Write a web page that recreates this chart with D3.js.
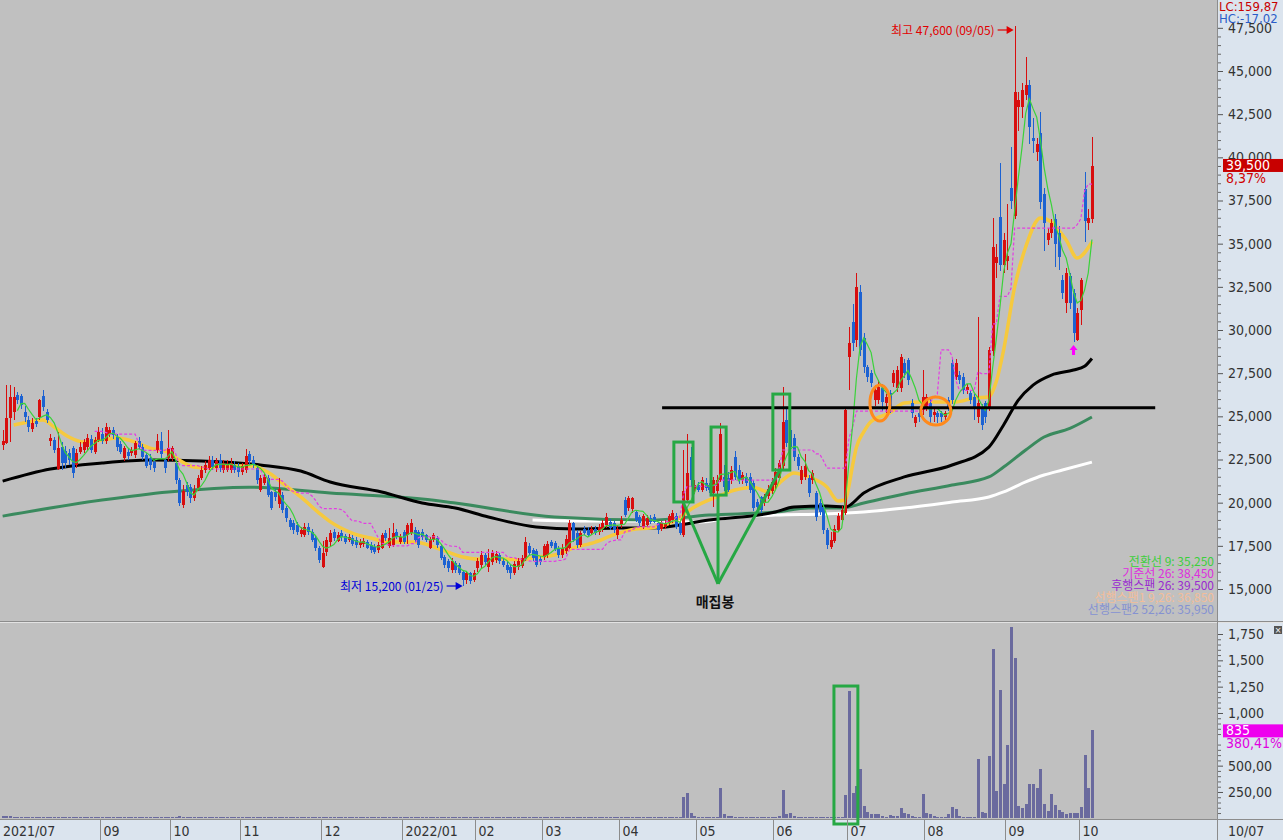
<!DOCTYPE html>
<html><head><meta charset="utf-8">
<script src="https://cdn.jsdelivr.net/npm/d3@7"></script>
<style>body{margin:0;background:#c0c0c0;}svg{display:block;}</style>
</head><body>
<svg id="c" width="1283" height="840"></svg>
<script>
// ---------------- DATA ----------------
// daily candles [open, high, low, close], 2021-07-22 .. 2022-10-07
const ohlc = [
[23350,24200,23050,23600],[23450,26800,23400,24900],[24900,26800,23500,26100],[25250,26700,24800,26100],[26250,26400,25700,25950],
[26200,26300,25400,25650],[25250,25600,24700,24950],[24800,25000,24100,24400],[24250,24900,24100,24600],[24750,24900,24400,24550],
[24950,26000,24800,25950],[26200,26500,25300,25550],[25250,25400,24600,24800],[23550,24000,23300,23750],[23650,23800,22900,23050],
[21950,24100,21900,23150],[23200,23500,21900,22300],[23000,23300,22000,22300],[22900,23100,22200,22450],[23150,23300,21450,21700],
[22200,23100,22000,22850],[22950,23500,22800,23200],[23050,23700,22900,23500],[23200,24000,23000,23750],[23700,23900,22900,23050],
[22950,23800,22800,23650],[23650,24400,23500,24100],[24000,24300,23400,23550],[23550,24600,23400,24400],[24000,24400,23800,24200],
[24200,24400,23700,23900],[23800,24000,23000,23200],[23400,23600,22800,22950],[22600,23300,22400,23150],[22950,23100,22500,22700],
[22900,23200,22700,23050],[22750,23600,22600,23450],[23600,23800,23100,23250],[23250,23400,22500,22650],[22750,22900,22000,22150],
[22600,22800,21900,22200],[22350,22500,21800,22000],[23050,24000,22900,23600],[23600,24100,22600,22800],[22450,22600,21700,22000],
[22600,24200,22400,23150],[22600,23300,22400,23150],[22300,22500,21100,21300],[21300,21400,19800,20000],[19850,21000,19700,20700],
[21000,21200,20400,20600],[20900,21100,20000,20250],[20250,21000,20100,20700],[20850,21600,20700,21450],[21450,22100,21300,21900],
[21900,22400,21700,22200],[22000,22700,21900,22450],[22450,22700,21900,22050],[22000,22600,21800,22400],[22450,22800,21800,22000],
[21900,22500,21700,22300],[21900,22500,21800,22200],[21900,22600,21700,22300],[22200,22400,21700,21900],[22100,22300,21500,21750],
[21800,22300,21600,22100],[21900,23100,21700,22700],[22800,23000,22200,22400],[22500,22700,22000,22200],[22000,22100,21100,21300],
[20750,21600,20600,21400],[21150,21700,21000,21500],[21450,21600,20300,20450],[20600,20700,19600,19700],[20600,20800,20100,20350],
[19900,21400,19700,20800],[20450,20600,19400,19600],[19700,19800,18900,19100],[19000,19100,18400,18600],[18850,19000,18200,18400],
[18700,18900,18100,18300],[18200,18600,18000,18400],[18150,18800,18000,18600],[18600,18800,18100,18300],[18300,18500,17700,17850],
[17950,18100,17200,17350],[17400,17500,16500,16700],[16300,17800,16200,17100],[17150,18000,16900,17850],[17700,18400,17500,18250],
[18300,18500,17800,17950],[17800,18300,17700,18100],[18250,18400,17800,18000],[18050,18200,17600,17700],[17850,18200,17700,18000],
[17950,18100,17500,17600],[17850,18000,17400,17550],[17550,17900,17400,17700],[17600,17950,17450,17800],[17700,17850,17300,17400],
[17550,17700,17100,17250],[17450,17600,17000,17150],[17250,17700,17100,17550],[17400,18250,17300,18100],[18250,18400,17800,17950],
[17500,18550,17400,17950],[17550,18800,17450,18250],[18300,18500,17900,18000],[17750,18200,17600,18000],[18300,18400,17600,17750],
[18100,18800,17600,18700],[18250,19050,18100,18850],[18400,18600,17700,17850],[18300,18400,17400,17550],[18300,18450,17850,18000],
[18100,18200,17700,17850],[17400,18000,17300,17900],[17850,18250,17700,18100],[17950,18050,17400,17550],[17500,17600,16700,16800],
[16850,16950,16200,16400],[16650,16750,16000,16200],[16100,16800,15900,16650],[16500,16600,15950,16100],[16400,16500,15800,15950],
[16000,16100,15200,15500],[15500,16000,15300,15900],[15900,16000,15300,15450],[15550,16100,15400,15900],[16200,16800,16000,16650],
[16400,17200,16200,16950],[16950,17100,16400,16550],[16300,17300,16000,16800],[16550,17250,16400,17100],[16700,17200,16500,17050],
[16950,17100,16450,16600],[16650,16800,16250,16400],[16400,16550,15950,16100],[16300,16400,15600,15950],[15950,16600,15800,16450],
[16300,16800,16100,16650],[16350,16950,16200,16800],[16750,18000,16600,17700],[17500,17650,16950,17100],[17250,17400,16600,16800],
[17200,17300,16300,16400],[16750,16900,16400,16550],[16850,17600,16700,17500],[16950,17800,16800,17600],[17700,17850,17400,17500],
[17650,17800,17200,17300],[17400,17500,16800,16950],[16950,17600,16800,17400],[17200,18100,17050,17900],[17400,19000,17300,18800],
[18800,18900,17700,17850],[18250,18400,17400,17550],[17550,18350,17450,18250],[18500,18650,18100,18250],[18400,18600,18000,18150],
[18250,18650,18100,18500],[18500,18650,18100,18250],[18300,18750,18150,18600],[18450,19000,18300,18850],[18700,19400,18550,19150],
[18900,19050,18400,18550],[18800,18950,18250,18400],[18100,18700,17900,18500],[18700,19200,18550,19000],[20150,20300,19150,19300],
[19700,20400,19500,20250],[19650,20300,19400,20250],[19450,19600,18900,19000],[19150,19300,18650,18800],[18600,19350,18500,19200],
[18700,19300,18600,19100],[19100,19300,18750,18900],[19150,19350,18800,18900],[18800,18900,18200,18400],[18500,18950,18350,18800],
[18600,19000,18500,18850],[18850,19350,18700,19200],[19000,19600,18850,19400],[19200,19400,18450,18600],[18800,18900,18100,18250],
[18100,23050,18000,20650],[20150,24000,20050,21700],[22650,23200,20900,21300],[20750,21300,20500,21000],[21000,21200,20600,20750],
[20750,21500,20600,21300],[21150,21400,20700,20850],[21000,21150,20550,20750],[20550,21500,19750,21300],[20650,21600,20500,21300],
[21300,24600,21200,24000],[21500,22200,20700,20900],[21400,21800,20600,20750],[21300,22100,21100,21900],[22650,23000,21300,21500],
[21900,22200,21100,21300],[21300,21800,21100,21600],[21500,21700,20950,21150],[21500,21700,20550,20750],[21150,21300,19500,19700],
[20050,20200,19500,19750],[20300,20400,19400,19600],[20000,20500,19800,20300],[20400,21000,20200,20800],[20700,21400,20500,21200],
[21000,22000,20800,21800],[21450,22500,21300,22300],[22100,26700,21900,24700],[24800,25400,23200,23450],[24200,24500,22900,23200],
[23750,24000,22400,22650],[22650,22800,21900,22100],[21300,22100,21100,21900],[21500,22800,21300,22100],[21450,21600,20300,20550],
[21300,21900,21100,21700],[20550,20700,18950,19150],[20000,20200,19300,19450],[19750,19900,18200,18400],[18400,18550,17300,17550],
[17450,18300,17300,17850],[17800,18700,17650,18450],[18400,19400,18300,19200],[19000,19800,18900,19600],[19400,25400,19300,25350],
[28450,30200,26500,29250],[30450,31500,28800,29250],[29400,33300,29000,32500],[32200,32600,28500,28850],[29550,29800,27500,27850],
[27850,28000,27000,27300],[27500,27700,26700,26950],[25950,26800,25600,26500],[25950,27100,25700,26700],[26650,26900,25300,25850],
[25750,26300,25200,26100],[26350,26500,25200,25550],[26950,27700,26700,27500],[26650,27900,26400,27700],[26650,28600,26400,28450],
[28100,28300,27200,27500],[28250,28400,26800,27100],[25800,26000,24900,25200],[24600,25100,24400,24950],[25200,25400,24700,24950],
[25350,27700,25100,26100],[25550,26300,25300,26100],[25800,26000,24600,24950],[25050,25400,24700,25250],[25200,25300,24600,24950],
[25200,25300,24700,24950],[24950,25300,24700,25200],[25950,26100,25300,25550],[28100,28300,25700,25950],[27300,28300,27100,28100],
[27400,27600,26900,27100],[27300,27500,26300,26550],[26550,26900,26300,26700],[26350,26500,25700,25950],[26100,26300,24800,25550],
[24950,30750,24600,25750],[25550,25700,24200,24500],[25750,25900,24600,24950],[25550,29000,25300,28850],[28800,36500,28500,34800],
[33900,35000,33000,34200],[36550,39700,33400,33750],[33750,35600,33300,35200],[34000,37300,33500,34300],[38200,40600,37000,37500],
[36600,47600,36400,43800],[42900,43800,41500,43300],[42900,44300,42300,43900],[43600,45800,43300,44200],[44200,44500,40800,41750],
[41100,42300,40250,40950],[40300,41100,39800,40800],[41400,42600,37000,37400],[37900,38200,34600,36200],[35200,35900,34900,35600],
[35600,36400,35300,36200],[36400,36700,33650,35000],[35600,36000,33500,34200],[32900,33200,31800,32150],[31550,33600,31000,33300],
[33100,33300,31200,31550],[32150,32400,29300,29800],[29400,31300,29350,31000],[31150,33000,30300,32900],[38150,39150,35100,36300],
[36200,37000,35800,36500],[36400,41200,36200,39500]
];

// volume (thousand shares)
const volumes = [
18,25,22,12,9,8,10,14,9,7, 8,11,7,6,9,13,8,7,6,10, 7,6,5,6,8,6,5,7,6,5, 6,5,7,5,4,6,5,8,6,5,
6,7,12,9,8,10,9,14,18,10, 8,7,6,9,8,7,6,5,6,7, 5,6,5,6,7,6,10,8,6,9, 7,6,8,10,7,9,8,9,7,6,
6,5,7,6,8,7,9,12,9,7, 6,5,6,7,5,6,5,6,5,6, 5,6,7,10,8,9,11,7,6,8, 9,10,8,9,7,6,6,5,7,9,
8,7,9,8,10,12,9,8,7,9, 8,7,8,7,6,6,5,6,7,6, 6,7,12,8,7,9,6,8,7,6, 6,7,8,9,14,10,8,7,6,6,
5,6,6,7,8,6,6,5,7,14, 10,9,8,7,6,8,7,6,6,7, 6,7,8,12,
10, 205,237,53,22, 14,12,10,12,11,13, 290,44,22,
18,16,17,15,14,16,13,12,15,14,12,13,14,22, 269,44,53,
18,16,14,12,13,11,12,14,13,11,10,12,14, 14,
220,1210,237,310,465,118,63,44,44,44, 22,16,33,20,25,95,53,44,22,16,
16,230,53,44,22,16,16,12,44,105, 85,22,10,8,10,10,560,63,53,592,
1605,259,1218,326,696,1820,1519,118,95,136, 323,323,288,468,136,70,230,127,79,57,
44,50,50,50,105,601,288,835
];

// moving-average style lines: [candle index, price]
const yellowLine = [[3,24500],[7,24670],[11,24790],[14,24380],[18,23800],[22,23510],[27,23630],[31,23740],[36,23510],[40,23160],[45,22930],[48,22470],[52,22060],[56,22010],[59,22120],[63,22120],[68,22120],[72,21770],[76,21140],[81,20330],[86,19400],[89,18900],[95,18240],[100,17950],[105,17720],[112,17720],[118,17370],[125,16850],[129,16735],[136,16735],[141,16680],[145,16850],[150,16970],[155,17370],[161,17720],[166,18130],[172,18470],[176,18530],[183,18990],[188,19750],[194,20330],[199,20730],[204,20900],[208,20620],[212,21310],[215,21720],[219,21490],[224,20900],[227,20100],[229,20150],[230,21000],[231,22200],[232,23200],[234,24100],[236,24700],[241,25190],[245,25770],[250,25830],[255,25830],[259,25830],[264,26060],[268,26120],[270,27000],[272,28840],[275,32490],[278,34810],[282,36490],[285,36250],[289,35210],[292,34170],[296,35100]];
const blackLine = [[0,21250],[13,21950],[27,22300],[40,22470],[54,22410],[70,22180],[81,21830],[89,21200],[103,20620],[114,19980],[123,19690],[132,19170],[145,18590],[156,18470],[168,18530],[176,18530],[192,18990],[210,19460],[215,19750],[224,19800],[229,19750],[234,20560],[245,21490],[258,22180],[268,23220],[272,24500],[276,25940],[280,26810],[285,27390],[291,27680],[294,27900],[296,28350]];
const greenLine = [[0,19220],[27,20150],[45,20620],[67,20900],[89,20560],[114,20210],[123,19980],[150,19170],[176,18990],[192,19280],[210,19460],[219,19690],[228,19690],[234,19980],[245,20500],[258,21020],[268,21490],[272,22060],[278,23050],[283,23800],[290,24300],[296,24960]];
const whiteLine = [[144,18990],[157,18940],[174,18940],[190,18880],[197,19110],[210,19280],[223,19340],[234,19460],[245,19690],[258,20040],[268,20330],[272,20620],[278,21200],[283,21600],[288,21890],[296,22350]];

// axis labels
const monthIdx = [0,27,46,65,87,109,129,147,168,189,210,230,251,273,293];
const monthLabels = ["2021/07","09","10","11","12","2022/01","02","03","04","05","06","07","08","09","10"];
const priceTicks = [15000,17500,20000,22500,25000,27500,30000,32500,35000,37500,40000,42500,45000,47500];
const volTicks = [250,500,1000,1250,1500,1750];
const volTickLabels = ["250,00","500,00","1,000","1,250","1,500","1,750"];
const legendLines = ["전환선 9: 35,250","기준선 26: 38,450","후행스팬 26: 39,500","선행스팬1 9,26: 36,850","선행스팬2 52,26: 35,950"];

// ---------------- DRAW ----------------
const UP="#d80e0e", DN="#1c62d2", AXBG="#dbe4ee", VOLC="#6a6a9e";
const NUMFONT="'Liberation Sans Narrow','DejaVu Sans Condensed','Arial Narrow',sans-serif";
const KRFONT="'Noto Sans CJK KR','Noto Sans',sans-serif";
const svg=d3.select("#c");
const xs=d3.scaleLinear().domain([0,330]).range([2.64,2.64+330*3.68]);
const ys=d3.scaleLinear().domain([15000,45000]).range([589,71]);
const yv=d3.scaleLinear().domain([0,1750]).range([818.3,634]);

const defs=svg.append("defs");
defs.append("clipPath").attr("id","cp").append("rect").attr("x",0).attr("y",0).attr("width",1217).attr("height",621);
defs.append("clipPath").attr("id","cv").append("rect").attr("x",0).attr("y",623).attr("width",1217).attr("height",196);

svg.append("rect").attr("width",1283).attr("height",840).attr("fill","#c0c0c0");

// MA lines
const pg=svg.append("g").attr("clip-path","url(#cp)");
const lg=d3.line().x(d=>xs(d[0])).y(d=>ys(d[1])).curve(d3.curveMonotoneX);
pg.append("path").attr("d",lg(whiteLine)).attr("fill","none").attr("stroke","#ffffff").attr("stroke-width",3);
pg.append("path").attr("d",lg(greenLine)).attr("fill","none").attr("stroke","#3a8a5e").attr("stroke-width",3);
pg.append("path").attr("d",lg(blackLine)).attr("fill","none").attr("stroke","#000").attr("stroke-width",3);
pg.append("path").attr("d",lg(yellowLine)).attr("fill","none").attr("stroke","#f6c93e").attr("stroke-width",3.5);

// candles
const cg=pg.append("g");
cg.selectAll("line.wick").data(ohlc).join("line").attr("class","wick")
  .attr("x1",(d,i)=>Math.round(xs(i))+0.5).attr("x2",(d,i)=>Math.round(xs(i))+0.5)
  .attr("y1",d=>ys(d[1])).attr("y2",d=>ys(d[2]))
  .attr("stroke",d=>d[3]>=d[0]?UP:DN).attr("stroke-width",1).attr("shape-rendering","crispEdges");
cg.selectAll("rect.body").data(ohlc).join("rect").attr("class","body")
  .attr("x",(d,i)=>Math.round(xs(i))-1).attr("width",3)
  .attr("y",d=>ys(Math.max(d[0],d[3])))
  .attr("height",d=>Math.max(1,Math.abs(ys(d[0])-ys(d[3]))))
  .attr("fill",d=>d[3]>=d[0]?UP:DN).attr("shape-rendering","crispEdges");

// kijun (26-bar mid-range) and 5-bar average of closes, computed from the candles
function midline(n){return ohlc.map((d,i)=>{if(i<n-1)return null;const w=ohlc.slice(i-n+1,i+1);return [i,(d3.max(w,e=>e[1])+d3.min(w,e=>e[2]))/2];});}
function sma(n){return ohlc.map((d,i)=>i<n-1?null:[i,d3.mean(ohlc.slice(i-n+1,i+1),e=>e[3])]);}
const l2=d3.line().defined(d=>d!==null).x(d=>xs(d[0])).y(d=>ys(d[1]));
pg.append("path").attr("d",l2(midline(26))).attr("fill","none").attr("stroke","#e23ee2").attr("stroke-width",1.2).attr("stroke-dasharray","3,2");
pg.append("path").attr("d",l2(sma(5))).attr("fill","none").attr("stroke","#3ad23a").attr("stroke-width",1.2);

// volume
const vg=svg.append("g").attr("clip-path","url(#cv)");
vg.selectAll("rect").data(volumes).join("rect")
  .attr("x",(d,i)=>Math.round(xs(i))-1).attr("width",3)
  .attr("y",d=>Math.min(yv(d),818.3-1)).attr("height",d=>Math.max(1,818.3-yv(d)))
  .attr("fill",VOLC).attr("shape-rendering","crispEdges");

// panel frames
svg.append("rect").attr("x",0).attr("y",820).attr("width",1283).attr("height",20).attr("fill",AXBG);
svg.append("rect").attr("x",1218).attr("y",0).attr("width",65).attr("height",820).attr("fill",AXBG);
svg.append("line").attr("x1",0).attr("x2",1283).attr("y1",621.5).attr("y2",621.5).attr("stroke","#8c8c8c");
svg.append("line").attr("x1",0).attr("x2",1283).attr("y1",622.5).attr("y2",622.5).attr("stroke","#e2e2e2");
svg.append("line").attr("x1",0).attr("x2",1283).attr("y1",819.5).attr("y2",819.5).attr("stroke","#8c8c8c");
svg.append("line").attr("x1",1217.5).attr("x2",1217.5).attr("y1",0).attr("y2",840).attr("stroke","#8c8c8c");

// annotations
const GREEN="#26a844";
pg.append("line").attr("x1",xs(179.2)).attr("x2",xs(313.2)).attr("y1",ys(25500)).attr("y2",ys(25500)).attr("stroke","#000").attr("stroke-width",3);
const boxes=[[182.4,187.6,23510,20040],[192.5,196.6,24380,20440],[209.3,213.9,26290,21890]];
const apex=[194.4,15300];
const boxFoot=[184.9,194.4,211.2];
boxes.forEach((b,k)=>{
  svg.append("rect").attr("x",xs(b[0])).attr("y",ys(b[2])).attr("width",xs(b[1])-xs(b[0])).attr("height",ys(b[3])-ys(b[2]))
    .attr("fill","none").attr("stroke",GREEN).attr("stroke-width",3);
  svg.append("line").attr("x1",xs(boxFoot[k])).attr("y1",ys(b[3])).attr("x2",xs(apex[0])).attr("y2",ys(apex[1]))
    .attr("stroke",GREEN).attr("stroke-width",3);
});
svg.append("text").attr("x",xs(apex[0])-3).attr("y",ys(apex[1])+23).attr("text-anchor","middle")
  .attr("font-family",KRFONT).attr("font-weight","bold").attr("font-size",14).attr("fill","#111").text("매집봉");
svg.append("rect").attr("x",xs(225.9)).attr("y",yv(1256)).attr("width",xs(232.4)-xs(225.9)).attr("height",824-yv(1256))
  .attr("fill","none").attr("stroke",GREEN).attr("stroke-width",3);
[[238.4,25770,10,18],[253.6,25310,15,14]].forEach(c=>{
  svg.append("ellipse").attr("cx",xs(c[0])).attr("cy",ys(c[1])).attr("rx",c[2]).attr("ry",c[3])
    .attr("fill","none").attr("stroke","#ff8a1c").attr("stroke-width",3);
});
// pink arrow under the recent low
{const ax=xs(291), ay=ys(29300)+3;
 svg.append("path").attr("d",`M${ax},${ay} L${ax-4},${ay+5} L${ax-1.5},${ay+5} L${ax-1.5},${ay+10} L${ax+1.5},${ay+10} L${ax+1.5},${ay+5} L${ax+4},${ay+5} Z`).attr("fill","#ff00ff");}

// high / low labels
const hiI=d3.maxIndex(ohlc,d=>d[1]), loI=d3.minIndex(ohlc,d=>d[2]);
{const hx=xs(hiI), hy=30;
 svg.append("line").attr("x1",hx-17).attr("x2",hx-6).attr("y1",hy).attr("y2",hy).attr("stroke","#e00000").attr("stroke-width",1.2);
 svg.append("path").attr("d",`M${hx-1},${hy} L${hx-8},${hy-4} L${hx-8},${hy+4} Z`).attr("fill","#e00000");
 svg.append("text").attr("x",hx-20).attr("y",hy+5).attr("text-anchor","end").attr("font-family",KRFONT).attr("font-size",12).attr("fill","#e00000")
   .text("최고 "+d3.format(",")(ohlc[hiI][1])+" (09/05)");}
{const lx=xs(loI), ly=586;
 svg.append("line").attr("x1",lx-16).attr("x2",lx-6).attr("y1",ly).attr("y2",ly).attr("stroke","#0000d8").attr("stroke-width",1.2);
 svg.append("path").attr("d",`M${lx},${ly} L${lx-7},${ly-4} L${lx-7},${ly+4} Z`).attr("fill","#0000d8");
 svg.append("text").attr("x",lx-19).attr("y",ly+5).attr("text-anchor","end").attr("font-family",KRFONT).attr("font-size",12).attr("fill","#0000d8")
   .text("최저 "+d3.format(",")(ohlc[loI][2])+" (01/25)");}

// legend
const legColors=["#3ccf3c","#de2ede","#9a2ad0","#f3bd9a","#8592d2"];
legendLines.forEach((t,k)=>{
  svg.append("text").attr("x",1214).attr("y",566+k*12.1).attr("text-anchor","end").attr("font-family",KRFONT)
    .attr("font-size",12).attr("fill",legColors[k]).text(t);
});

// price axis
const pa=svg.append("g").attr("transform","translate(1218,0)")
  .call(d3.axisRight(ys).tickValues(priceTicks).tickSize(5).tickSizeOuter(0).tickPadding(5).tickFormat(d3.format(",")));
pa.select(".domain").remove();
pa.selectAll("line").attr("stroke","#555");
pa.selectAll("text").attr("font-family",NUMFONT).attr("font-size",14).attr("fill","#333");
const pm=svg.append("g").attr("transform","translate(1218,0)")
  .call(d3.axisRight(ys).tickValues(d3.range(15000,48000,500).filter(v=>v%2500)).tickSize(3).tickFormat(""));
pm.select(".domain").remove(); pm.selectAll("line").attr("stroke","#666");

// volume axis
const va=svg.append("g").attr("transform","translate(1218,0)")
  .call(d3.axisRight(yv).tickValues(volTicks).tickSize(5).tickSizeOuter(0).tickPadding(5).tickFormat((d,i)=>volTickLabels[i]));
va.select(".domain").remove();
va.selectAll("line").attr("stroke","#555");
va.selectAll("text").attr("font-family",NUMFONT).attr("font-size",14).attr("fill","#333");
const vm=svg.append("g").attr("transform","translate(1218,0)")
  .call(d3.axisRight(yv).tickValues(d3.range(50,1800,50).filter(v=>v%250)).tickSize(3).tickFormat(""));
vm.select(".domain").remove(); vm.selectAll("line").attr("stroke","#666");

// current value boxes
const last=ohlc[ohlc.length-1];
{const y=ys(last[3]);
 svg.append("rect").attr("x",1223).attr("y",y-7).attr("width",60).attr("height",13).attr("fill","#c80000");
 svg.append("text").attr("x",1226).attr("y",y+4.5).attr("font-family",NUMFONT).attr("font-size",14).attr("fill","#fff").text(d3.format(",")(last[3]));
 svg.append("text").attr("x",1226).attr("y",y+17).attr("font-family",NUMFONT).attr("font-size",14).attr("fill","#d00000").text("8,37%");}
{const v=volumes[volumes.length-1], y=yv(v);
 svg.append("rect").attr("x",1223).attr("y",y-6).attr("width",60).attr("height",13).attr("fill","#ee00ee");
 svg.append("text").attr("x",1226).attr("y",y+5).attr("font-family",NUMFONT).attr("font-size",14).attr("fill","#fff").text(v);
 svg.append("text").attr("x",1226).attr("y",y+18).attr("font-family",NUMFONT).attr("font-size",14).attr("fill","#e000e0").text("380,41%");}
// close icon
svg.append("rect").attr("x",1274).attr("y",626).attr("width",8).attr("height",8).attr("fill","#555");
svg.append("text").attr("x",1278).attr("y",633).attr("text-anchor","middle").attr("font-family","DejaVu Sans").attr("font-size",8).attr("fill","#fff").text("×");

// LC / HC
svg.append("rect").attr("x",1218.5).attr("y",0).attr("width",64.5).attr("height",23).attr("fill",AXBG);
svg.append("text").attr("x",1219).attr("y",11).attr("font-family",NUMFONT).attr("font-size",13).attr("fill","#c80000").text("LC:159,87");
svg.append("text").attr("x",1219).attr("y",23).attr("font-family",NUMFONT).attr("font-size",13).attr("fill","#2a5cc8").text("HC:-17,02");

// date axis
const dg=svg.append("g");
monthIdx.forEach((idx,k)=>{
  const sx=Math.round(xs(idx)-2)+0.5;
  if(k>0) dg.append("line").attr("x1",sx).attr("x2",sx).attr("y1",820).attr("y2",840).attr("stroke","#8c8c8c");
  dg.append("text").attr("x",k===0?3:sx+3).attr("y",836).attr("font-family",NUMFONT).attr("font-size",14).attr("fill","#333").text(monthLabels[k]);
});
dg.append("text").attr("x",1228).attr("y",836).attr("font-family",NUMFONT).attr("font-size",14).attr("fill","#333").text("10/07");
</script>
</body></html>
